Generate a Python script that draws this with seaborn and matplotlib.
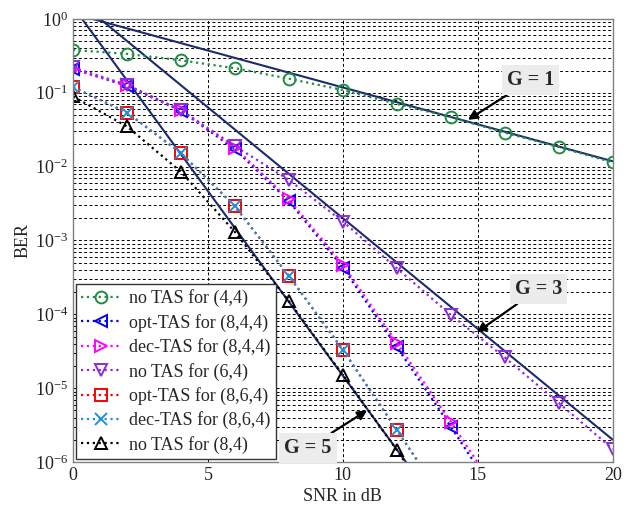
import numpy as np
import pandas as pd
import matplotlib
matplotlib.use("Agg")
import matplotlib.pyplot as plt
import seaborn as sns
from matplotlib.ticker import LogLocator, FixedLocator, NullFormatter

sns.set_style("white")
plt.rcParams['font.family'] = ['Liberation Serif', 'DejaVu Serif']
plt.rcParams['mathtext.fontset'] = 'custom'
plt.rcParams['mathtext.rm'] = 'Liberation Serif'
plt.rcParams['mathtext.it'] = 'Liberation Serif:italic'
plt.rcParams['mathtext.bf'] = 'Liberation Serif:bold'

# ---- data ----
snr = [0, 2, 4, 6, 8, 10, 12, 14, 16, 18, 20]
snr_short = [0, 2, 4, 6, 8, 10, 12, 14, 16]
snr_shorter = [0, 2, 4, 6, 8, 10, 12, 14]

notas_44 = [0.38, 0.336, 0.275, 0.215, 0.155, 0.109, 0.0705, 0.0467, 0.0288, 0.0184, 0.0114]
opt_844 = [0.21, 0.124, 0.057, 0.0172, 3.4e-3, 4.3e-4, 3.6e-5, 3.0e-6, 2.3e-7]
dec_844 = [0.21, 0.126, 0.058, 0.0180, 3.6e-3, 4.7e-4, 4.1e-5, 3.5e-6, 2.7e-7]
notas_64 = [0.22, 0.128, 0.058, 0.019, 6.6e-3, 1.8e-3, 4.2e-4, 9.8e-5, 2.6e-5, 6.3e-6, 1.5e-6]
opt_864 = [0.119, 0.054, 0.0152, 2.9e-3, 3.3e-4, 3.3e-5, 2.7e-6, 2.2e-7]
dec_864 = [0.119, 0.054, 0.0152, 2.9e-3, 3.3e-4, 3.3e-5, 2.7e-6, 2.2e-7]
notas_84 = [0.089, 0.035, 8.5e-3, 1.3e-3, 1.5e-4, 1.5e-5, 1.45e-6, 1.2e-7]

# diversity-order reference lines (endpoints)
g1_snr = [0, 20]
g1_ber = [1.18, 0.0118]
g3_snr = [0, 20]
g3_ber = [2.0, 2.0e-6]
g5_snr = [0, 14]
g5_ber = [1.47, 1.47e-7]

series = [
    ("no TAS for (4,4)", snr, notas_44, "#228b45", "o"),
    ("opt-TAS for (8,4,4)", snr_short, opt_844, "#0000ff", "<"),
    ("dec-TAS for (8,4,4)", snr_short, dec_844, "#ff00ff", ">"),
    ("no TAS for (6,4)", snr, notas_64, "#8a2be2", "v"),
    ("opt-TAS for (8,6,4)", snr_shorter, opt_864, "#ff0000", "s"),
    ("dec-TAS for (8,6,4)", snr_shorter, dec_864, "#1e90d8", "x"),
    ("no TAS for (8,4)", snr_shorter, notas_84, "#000000", "^"),
]

fig = plt.figure(figsize=(6.35, 5.14), dpi=100)
ax = fig.add_axes([0.115, 0.1012, 0.85, 0.862])

navy = "#1c2a6e"
for xs, ys in [(g1_snr, g1_ber), (g3_snr, g3_ber), (g5_snr, g5_ber)]:
    sns.lineplot(x=xs, y=ys, ax=ax, color=navy, linewidth=1.5, linestyle='-', legend=False)

for label, xs, ys, col, mk in series:
    sns.lineplot(x=xs, y=ys, ax=ax, color=col, linestyle=':', linewidth=1.6,
                 marker=mk, markersize=8.5, markerfacecolor='none', markeredgecolor=col,
                 markeredgewidth=1.4, label=label)

ax.set_yscale('log')
ax.set_xlim(0, 20)
ax.set_ylim(1e-6, 1)
ax.xaxis.set_major_locator(FixedLocator([0, 5, 10, 15, 20]))
ax.yaxis.set_major_locator(LogLocator(base=10, numticks=10))
ax.yaxis.set_minor_locator(LogLocator(base=10, subs=np.arange(2, 10), numticks=100))
ax.yaxis.set_minor_formatter(NullFormatter())

ax.grid(which='major', axis='both', color='k', linestyle=(0, (3, 2.5)), linewidth=0.7)
ax.grid(which='minor', axis='y', color='k', linestyle=(0, (3, 2.5)), linewidth=0.7)
ax.set_axisbelow(True)

for s in ax.spines.values():
    s.set_color('#808080')
    s.set_linewidth(1.0)
ax.tick_params(which='both', direction='in', labelsize=13, colors='#444444', labelcolor='#222222')
ax.tick_params(which='major', length=5)
ax.tick_params(which='minor', length=3)

ax.set_xlabel("SNR in dB", fontsize=13, labelpad=3)
ax.set_ylabel("BER", fontsize=13, labelpad=2)

leg = ax.legend(loc='lower left', fontsize=13, frameon=True, fancybox=False,
                edgecolor='#333333', borderpad=0.3, labelspacing=0.36,
                handlelength=2.2, handletextpad=0.45, borderaxespad=0.15, numpoints=1)
leg.get_frame().set_linewidth(1.0)
leg.get_frame().set_alpha(1)

box = dict(boxstyle='square,pad=0.25', facecolor='#ececec', edgecolor='none')
arrow = dict(arrowstyle='-|>', color='k', lw=1.6, mutation_scale=14, shrinkA=0, shrinkB=0)
ax.annotate("G = 1", xy=(14.63, 0.043), xytext=(16.95, 0.148), fontsize=14.5, fontweight='bold',
            ha='center', va='center', bbox=box, arrowprops=arrow)
ax.annotate("G = 3", xy=(14.96, 5.7e-5), xytext=(17.25, 2.2e-4), fontsize=14.5, fontweight='bold',
            ha='center', va='center', bbox=box, arrowprops=arrow)
ax.annotate("G = 5", xy=(10.9, 5.0e-6), xytext=(8.7, 1.55e-6), fontsize=14.5, fontweight='bold',
            ha='center', va='center', bbox=box, arrowprops=arrow)

fig.savefig("out.png", dpi=100)
